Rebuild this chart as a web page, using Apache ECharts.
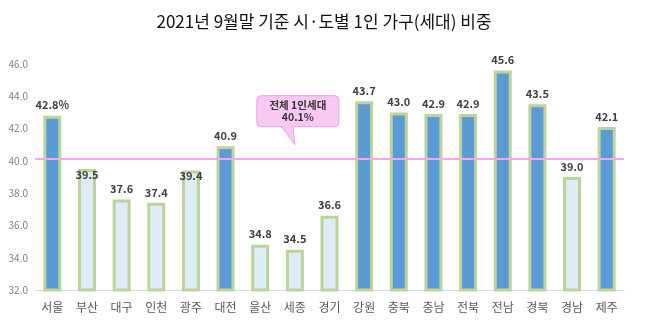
<!DOCTYPE html>
<html>
<head>
<meta charset="utf-8">
<script src="https://cdn.jsdelivr.net/npm/echarts@6/dist/echarts.min.js"></script>
<style>
  html, body { margin: 0; padding: 0; background: #ffffff; }
  #chart { width: 648px; height: 328px; }
</style>
</head>
<body>
<div id="chart"></div>
<script>
// 시·도별 1인 가구(세대) 비중 (%), 2021년 9월말
const regions = ['서울', '부산', '대구', '인천', '광주', '대전', '울산', '세종', '경기',
                 '강원', '충북', '충남', '전북', '전남', '경북', '경남', '제주'];
const shares = [42.8, 39.5, 37.6, 37.4, 39.4, 40.9, 34.8, 34.5, 36.6,
                43.7, 43.0, 42.9, 42.9, 45.6, 43.5, 39.0, 42.1];
const nationalShare = 40.1;
const calloutLines = ['전체 1인세대', '40.1%'];
const yTicks = { min: 32, max: 46, step: 2 };

const FONT = '"Noto Sans CJK KR", "Noto Sans", sans-serif';
const HIGH = '#5b9bd5';
const LOW = '#dcedf6';
const EDGE = '#bcd49a';

const chart = echarts.init(document.getElementById('chart'), null, { renderer: 'canvas' });

// labels of bars just under the national line sit on the bar top so they clear the line
function nearLine(v) { return v < nationalShare && v > nationalShare - 1; }

chart.setOption({
  animation: false,
  backgroundColor: '#ffffff',
  title: {
    text: '2021년 9월말 기준 시·도별 1인 가구(세대) 비중',
    left: 'center',
    top: 8,
    textStyle: { fontFamily: FONT, fontSize: 17, fontWeight: 'normal', color: '#111' }
  },
  grid: { left: 35, right: 24, top: 64, bottom: 38 },
  xAxis: {
    type: 'category',
    data: regions,
    axisLine: { lineStyle: { color: '#d9d9d9', width: 1 } },
    axisTick: { show: false },
    axisLabel: { fontFamily: FONT, fontSize: 12, color: '#595959', margin: 11 }
  },
  yAxis: {
    type: 'value',
    min: yTicks.min,
    max: yTicks.max,
    interval: yTicks.step,
    splitLine: { show: false },
    axisLine: { show: false },
    axisTick: { show: false },
    axisLabel: {
      fontFamily: FONT, fontSize: 10, color: '#7f7f7f', margin: 7,
      formatter: v => v.toFixed(1)
    }
  },
  series: [{
    type: 'bar',
    barWidth: 18,
    data: shares.map(v => ({
      value: v,
      itemStyle: { color: v > nationalShare ? HIGH : LOW },
      label: nearLine(v) ? { distance: -11 } : undefined
    })),
    itemStyle: { borderColor: EDGE, borderWidth: 3 },
    label: {
      show: true,
      position: 'top',
      distance: 5,
      fontFamily: FONT,
      fontSize: 11,
      fontWeight: 'bold',
      color: '#404040',
      formatter: p => p.dataIndex === 0 ? p.value.toFixed(1) + '%' : p.value.toFixed(1)
    },
    markLine: {
      silent: true,
      symbol: 'none',
      label: { show: false },
      lineStyle: { color: '#f2a8ee', width: 2, type: 'solid' },
      data: [{ yAxis: nationalShare }]
    }
  }]
});

// Speech-bubble callout for the national share, anchored to the chart's scales
function drawCallout() {
  const tip = chart.convertToPixel({ xAxisIndex: 0, yAxisIndex: 0 }, [6.8, 41.0]);
  const cx = tip[0] + 3;
  const boxW = 82, boxH = 31;
  const boxX = cx - boxW / 2;
  const boxY = tip[1] - 49;
  const fill = '#f9c9f4', stroke = '#e6a0e2';
  chart.setOption({
    graphic: [{
      type: 'group',
      children: [
        {
          type: 'polygon',
          shape: { points: [[tip[0] - 14, boxY + boxH - 1], [tip[0], tip[1]], [tip[0] - 2, boxY + boxH - 1]] },
          style: { fill: fill, stroke: stroke, lineWidth: 1 },
          z: 10
        },
        {
          type: 'rect',
          shape: { x: boxX, y: boxY, width: boxW, height: boxH, r: 4 },
          style: { fill: fill, stroke: stroke, lineWidth: 1 },
          z: 11
        },
        {
          type: 'polygon',
          shape: { points: [[tip[0] - 13, boxY + boxH - 1.5], [tip[0] - 0.5, tip[1] - 2], [tip[0] - 2.5, boxY + boxH - 1.5]] },
          style: { fill: fill },
          z: 12
        },
        {
          type: 'text',
          style: {
            text: calloutLines.join('\n'),
            x: cx, y: boxY + boxH / 2,
            align: 'center', verticalAlign: 'middle',
            fontFamily: FONT, fontSize: 10.5, fontWeight: 'bold',
            lineHeight: 12, fill: '#333'
          },
          z: 13
        }
      ]
    }]
  });
}
drawCallout();
</script>
</body>
</html>
